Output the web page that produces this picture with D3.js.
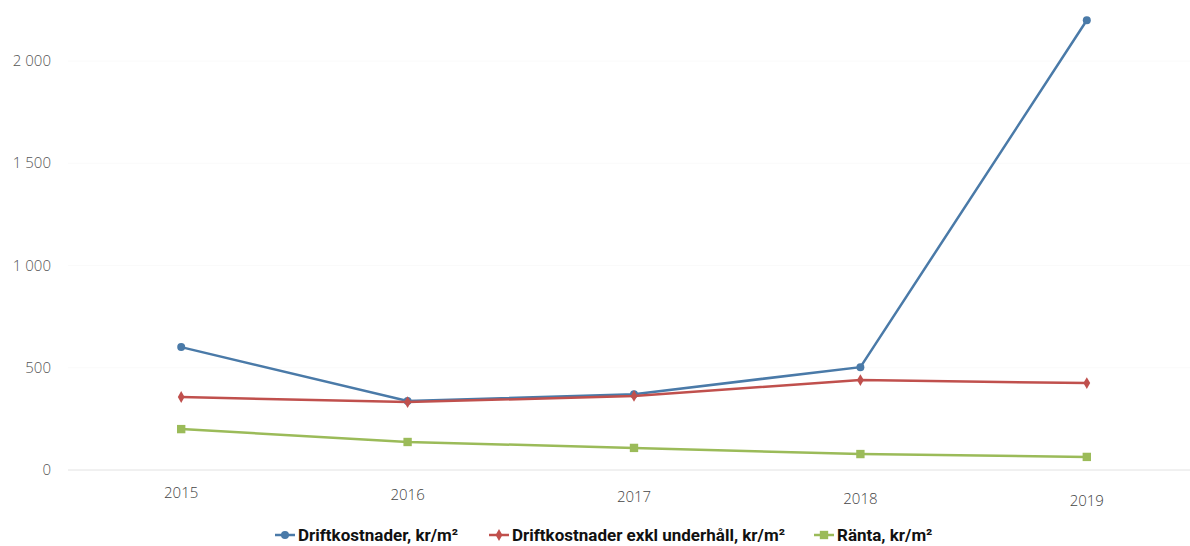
<!DOCTYPE html>
<html>
<head>
<meta charset="utf-8">
<script src="https://cdn.jsdelivr.net/npm/d3@7"></script>
<style>
  body { margin:0; background:#fff; }
  text { font-family: "Open Sans", sans-serif; }
</style>
</head>
<body>
<div id="chart"></div>
<script>
var years = ["2015","2016","2017","2018","2019"];
var drift = [601, 337, 371, 503, 2199];
var driftExkl = [357, 332, 362, 440, 425];
var ranta = [200, 137, 108, 78, 64];
var yTicks = [0, 500, 1000, 1500, 2000];
var seriesNames = ["Driftkostnader, kr/m²", "Driftkostnader exkl underhåll, kr/m²", "Ränta, kr/m²"];

var W = 1190, H = 546;
var m = {t:10, r:0, b:76, l:68};

var svg = d3.select("#chart").append("svg")
  .attr("width", W)
  .attr("height", H);

var x = d3.scaleBand()
  .domain(years)
  .range([m.l, 1200]);

var y = d3.scaleLinear()
  .domain([0, 2000])
  .range([470, 61]);

// gridlines (barely visible)
svg.append("g")
  .selectAll("line")
  .data(yTicks)
  .enter()
  .append("line")
  .attr("x1", m.l)
  .attr("x2", W)
  .attr("y1", function(d){ return y(d); })
  .attr("y2", function(d){ return y(d); })
  .style("stroke", function(d){ return d == 0 ? "#e2e2e2" : "#fafafa"; })
  .style("stroke-width", 1);

// y labels
svg.append("g")
  .selectAll("text")
  .data(yTicks)
  .enter()
  .append("text")
  .attr("x", 51)
  .attr("y", function(d){ return y(d) + 5; })
  .attr("text-anchor", "end")
  .style("font-size", "15px")
  .style("font-weight", "300")
  .style("fill", "#555")
  .text(function(d){ return d3.format(",")(d).replace(",", " "); });

// x labels
svg.append("g")
  .selectAll("text")
  .data(years)
  .enter()
  .append("text")
  .attr("x", function(d){ return x(d) + x.bandwidth()/2; })
  .attr("y", function(d,i){ return 498 + i*2; })
  .attr("text-anchor", "middle")
  .style("font-size", "15px")
  .style("font-weight", "300")
  .style("fill", "#444")
  .text(function(d){ return d; });

var series = [
  {name: seriesNames[0], values: drift, color: "#4a7aa8", symbol: d3.symbolCircle, size: 50},
  {name: seriesNames[1], values: driftExkl, color: "#c0504d", symbol: d3.symbolDiamond, size: 40},
  {name: seriesNames[2], values: ranta, color: "#9bbb59", symbol: d3.symbolSquare, size: 70}
];

var line = d3.line()
  .x(function(d,i){ return x(years[i]) + x.bandwidth()/2; })
  .y(function(d){ return y(d); });

var g = svg.selectAll(".series")
  .data(series)
  .enter()
  .append("g")
  .attr("class", "series");

g.append("path")
  .attr("d", function(d){ return line(d.values); })
  .style("fill", "none")
  .style("stroke", function(d){ return d.color; })
  .style("stroke-width", 2.5);

g.each(function(s){
  d3.select(this).selectAll(".pt")
    .data(s.values)
    .enter()
    .append("path")
    .attr("class", "pt")
    .attr("d", d3.symbol().type(s.symbol).size(s.size))
    .attr("transform", function(d,i){
      return "translate(" + (x(years[i]) + x.bandwidth()/2) + "," + y(d) + ")";
    })
    .style("fill", s.color);
});

// legend
var legX = [285, 499, 824];
var leg = svg.selectAll(".legend")
  .data(series)
  .enter()
  .append("g")
  .attr("class", "legend")
  .attr("transform", function(d,i){ return "translate(" + legX[i] + ",535)"; });

leg.append("line")
  .attr("x1", -10).attr("x2", 10)
  .style("stroke", function(d){ return d.color; })
  .style("stroke-width", 2.5);

leg.append("path")
  .attr("d", function(d){ return d3.symbol().type(d.symbol).size(d.size)(); })
  .style("fill", function(d){ return d.color; });

leg.append("text")
  .attr("x", 13)
  .attr("y", 6)
  .style("font-family", "Roboto, sans-serif")
  .style("font-weight", "bold")
  .style("font-size", "17px")
  .style("fill", "#111")
  .text(function(d){ return d.name; });
</script>
</body>
</html>
